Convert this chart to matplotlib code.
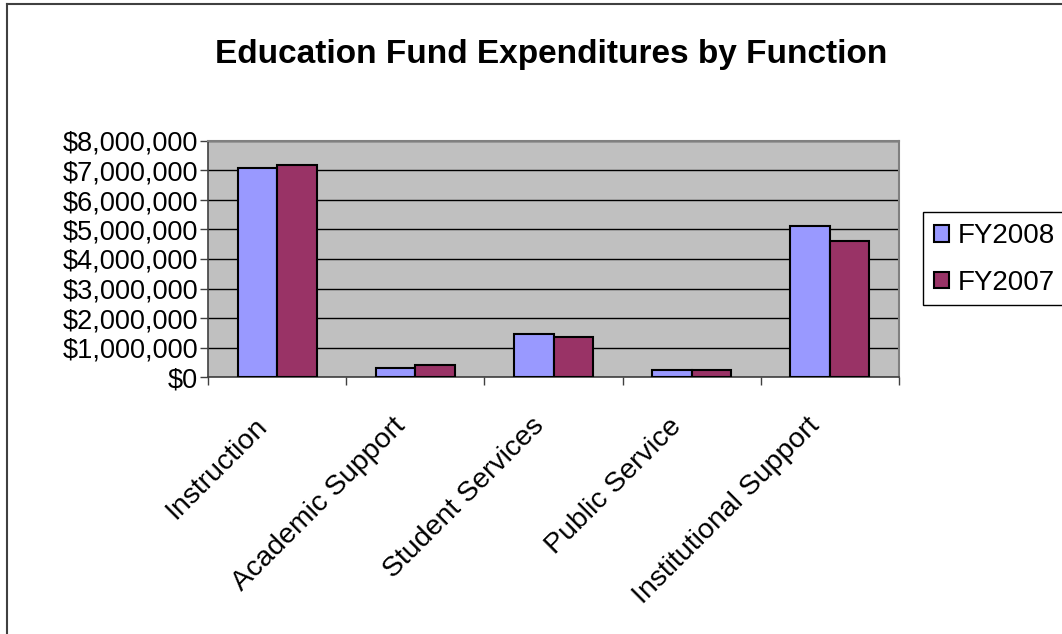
import numpy as np
import matplotlib.pyplot as plt
from matplotlib.patches import Patch, Rectangle
from matplotlib.lines import Line2D
from matplotlib.ticker import FuncFormatter, MultipleLocator
from matplotlib.transforms import ScaledTranslation

plt.rcParams['font.family'] = ['Liberation Sans', 'DejaVu Sans']

# Education fund spending by function, in dollars
categories = ['Instruction', 'Academic Support', 'Student Services',
              'Public Service', 'Institutional Support']
fy2008 = [7090000, 320000, 1460000, 250000, 5130000]
fy2007 = [7190000, 400000, 1370000, 240000, 4610000]
series_names = ['FY2008', 'FY2007']
colors = ['#9999FF', '#993366']

W, H = 1062, 634
fig = plt.figure(figsize=(W / 100, H / 100), dpi=100)
ax = fig.add_axes([208 / W, 1 - 377 / H, (899 - 208) / W, (377 - 141) / H])
ax.set_facecolor('#C0C0C0')

x = np.arange(len(categories))
bw = 1 / 3.5
ax.bar(x - bw / 2, fy2008, bw, color=colors[0], edgecolor='black', linewidth=1.5, zorder=3)
ax.bar(x + bw / 2, fy2007, bw, color=colors[1], edgecolor='black', linewidth=1.5, zorder=3)

ax.set_xlim(-0.5, len(categories) - 0.5)
ax.set_ylim(0, 8000000)
ax.yaxis.set_major_locator(MultipleLocator(1000000))
ax.yaxis.set_major_formatter(FuncFormatter(lambda v, p: '${:,.0f}'.format(v)))
ax.grid(axis='y', color='black', linewidth=1, zorder=1)

ax.set_xticks(x)
ax.set_xticklabels(categories, rotation=45, ha='right', va='top', rotation_mode='anchor')
ax.set_xticks(np.arange(len(categories) + 1) - 0.5, minor=True)
ax.tick_params(axis='x', which='major', length=0, labelsize=20.5, pad=26)
ax.tick_params(axis='x', which='minor', length=6, width=1, color='#404040', direction='out')
ax.tick_params(axis='y', length=6, width=1, color='#404040', direction='out', labelsize=19.5, pad=1)

# nudge category labels to the left
shift = ScaledTranslation(-23 / 100, 0, fig.dpi_scale_trans)
for lbl in ax.get_xticklabels():
    lbl.set_transform(lbl.get_transform() + shift)

for s in ['top', 'right']:
    ax.spines[s].set_color('#808080')
    ax.spines[s].set_linewidth(1.5)
for s in ['left', 'bottom']:
    ax.spines[s].set_color('#404040')
    ax.spines[s].set_linewidth(1.2)

fig.text(551 / W, 1 - 55 / H, 'Education Fund Expenditures by Function',
         ha='center', va='center', fontsize=24, fontweight='bold')

# legend box runs off the right edge of the chart
fig.add_artist(Rectangle((923 / W, 1 - 305 / H), 160 / W, 93 / H,
                         facecolor='white', edgecolor='black', linewidth=1))
handles = [Patch(facecolor=c, edgecolor='black', linewidth=1.5) for c in colors]
leg = fig.legend(handles, series_names, loc='upper left',
                 bbox_to_anchor=(923 / W, 1 - 212 / H), fontsize=20,
                 handlelength=0.55, handleheight=0.55, handletextpad=0.3,
                 borderpad=0.4, labelspacing=0.75, frameon=False, borderaxespad=0)

# chart frame
fig.add_artist(Line2D([7 / W, 7 / W], [0, 1 - 4 / H], color='#404040', linewidth=1.5))
fig.add_artist(Line2D([7 / W, 1], [1 - 4 / H, 1 - 4 / H], color='#404040', linewidth=1.5))

fig.savefig('out.png', dpi=100)
